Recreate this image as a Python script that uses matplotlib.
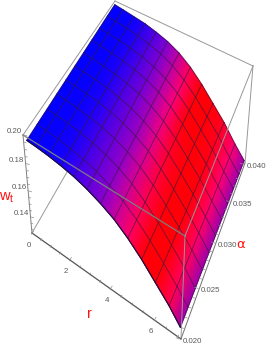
import numpy as np
import matplotlib
matplotlib.use("Agg")
import matplotlib.pyplot as plt
from matplotlib.colors import LinearSegmentedColormap

plt.rcParams['font.family'] = ['Liberation Sans', 'DejaVu Sans']
plt.rcParams['mathtext.fontset'] = 'custom'
plt.rcParams['mathtext.rm'] = 'Liberation Sans'

# surface
r_vals = [0.15, 0.6, 1.2, 1.8, 2.4, 3.0, 3.6, 4.2, 4.8, 5.4, 6.0, 6.6, 7.1]
alpha_vals = [0.020, 0.022, 0.024, 0.026, 0.028, 0.030, 0.032, 0.034, 0.036, 0.038, 0.040]
wt_vals = [
    [.1975, .1970, .1960, .1945, .1925, .1895, .1855, .1805, .1735, .1650, .1550, .1450, .1350],
    [.1977, .1971, .1961, .1946, .1925, .1895, .1854, .1803, .1732, .1645, .1545, .1443, .1344],
    [.1978, .1972, .1961, .1946, .1925, .1895, .1854, .1801, .1728, .1640, .1540, .1436, .1338],
    [.1980, .1973, .1962, .1947, .1925, .1895, .1853, .1799, .1725, .1635, .1535, .1429, .1332],
    [.1981, .1974, .1962, .1947, .1925, .1895, .1853, .1797, .1721, .1630, .1530, .1422, .1326],
    [.1983, .1975, .1963, .1948, .1925, .1895, .1852, .1795, .1718, .1625, .1525, .1415, .1320],
    [.1984, .1976, .1963, .1948, .1925, .1895, .1852, .1793, .1714, .1620, .1520, .1408, .1314],
    [.1986, .1977, .1964, .1949, .1925, .1895, .1851, .1791, .1711, .1615, .1515, .1401, .1308],
    [.1987, .1978, .1964, .1949, .1925, .1895, .1851, .1789, .1707, .1610, .1510, .1394, .1302],
    [.1989, .1979, .1965, .1950, .1925, .1895, .1850, .1787, .1704, .1605, .1505, .1387, .1296],
    [.1990, .1980, .1965, .1950, .1925, .1895, .1850, .1785, .1700, .1600, .1500, .1380, .1290],
]

r_ticks = [0, 2, 4, 6]
alpha_ticks = [0.020, 0.025, 0.030, 0.035, 0.040]
wt_ticks = [0.14, 0.16, 0.18, 0.20]
r_minor = [0.5, 1, 1.5, 2.5, 3, 3.5, 4.5, 5, 5.5, 6.5, 7]
alpha_minor = [0.021, 0.022, 0.023, 0.024, 0.026, 0.027, 0.028, 0.029,
               0.031, 0.032, 0.033, 0.034, 0.036, 0.037, 0.038, 0.039]
wt_minor = [0.13, 0.135, 0.145, 0.15, 0.155, 0.165, 0.17, 0.175, 0.185, 0.19, 0.195]

r_lim = (0.0, 7.1)
alpha_lim = (0.020, 0.040)
wt_lim = (0.126, 0.200)

# box corners on screen, used to fit the camera
box = {
    (0, 0, 0): (32, 233), (0, 0, 1): (23, 135),
    (1, 0, 0): (181, 339), (1, 0, 1): (185, 236),
    (1, 1, 0): (245, 163), (1, 1, 1): (253, 66),
    (0, 1, 0): (110, 97), (0, 1, 1): (115, 1),
}


def fit_camera():
    rows = []
    for (a, b, c), (u, v) in box.items():
        rows.append([a, b, c, 1, 0, 0, 0, 0, -u*a, -u*b, -u*c, -u])
        rows.append([0, 0, 0, 0, a, b, c, 1, -v*a, -v*b, -v*c, -v])
    return np.linalg.svd(np.array(rows, dtype=float))[2][-1].reshape(3, 4)


cam = fit_camera()


def project(r, alpha, wt):
    a = (np.asarray(r, dtype=float) - r_lim[0]) / (r_lim[1] - r_lim[0])
    b = (np.asarray(alpha, dtype=float) - alpha_lim[0]) / (alpha_lim[1] - alpha_lim[0])
    c = (np.asarray(wt, dtype=float) - wt_lim[0]) / (wt_lim[1] - wt_lim[0])
    w = cam[2, 0]*a + cam[2, 1]*b + cam[2, 2]*c + cam[2, 3]
    u = (cam[0, 0]*a + cam[0, 1]*b + cam[0, 2]*c + cam[0, 3]) / w
    v = (cam[1, 0]*a + cam[1, 1]*b + cam[1, 2]*c + cam[1, 3]) / w
    return u, v


def edge(ax, p, q, color="#989898", lw=0.7, zorder=1):
    ax.plot([box[p][0], box[q][0]], [box[p][1], box[q][1]], color=color, lw=lw, zorder=zorder)


fig = plt.figure(figsize=(2.66, 3.46), dpi=100)
ax = fig.add_axes([0, 0, 1, 1])
ax.set_xlim(0, 266)
ax.set_ylim(346, 0)
ax.axis("off")

# back of the box
edge(ax, (0, 0, 0), (0, 1, 0))
edge(ax, (0, 1, 1), (1, 1, 1))
edge(ax, (0, 0, 1), (0, 1, 1))
edge(ax, (1, 1, 0), (1, 1, 1))

# surface
R, A = np.meshgrid(r_vals, alpha_vals)
W = np.array(wt_vals)
U, V = project(R, A, W)

cmap = LinearSegmentedColormap.from_list("bluered", [
    (0.0, (0, 0, 1)), (0.2, (0.05, 0, 1)), (0.45, (0.55, 0, 0.8)),
    (0.58, (1, 0, 0.45)), (0.66, (1, 0, 0.03)), (0.82, (1, 0, 0.03)),
    (0.93, (1, 0, 0.45)), (1.0, (0.62, 0, 0.68)),
])
r_red = 5.7 - 0.8*(A - 0.02)/0.02
shade = np.where(R < r_red, 0.7*R/r_red, 0.7 + 0.3*(R - r_red)/(7.1 - r_red))
ax.pcolormesh(U, V, shade, shading="gouraud", cmap=cmap, vmin=0, vmax=1, zorder=2)

mesh_c = (0.2, 0.1, 0.25, 0.7)
for i in range(U.shape[0]):
    ax.plot(U[i], V[i], color=mesh_c, lw=0.6, zorder=3)
for j in range(U.shape[1]):
    ax.plot(U[:, j], V[:, j], color=mesh_c, lw=0.6, zorder=3)
ax.plot(U[0], V[0], color=(0.1, 0.05, 0.25), lw=0.8, zorder=3)

# front of the box, over the surface
edge(ax, (0, 0, 1), (1, 0, 1), color="#7d7d80", lw=0.9, zorder=4)
edge(ax, (1, 0, 1), (1, 1, 1), zorder=4)
edge(ax, (1, 0, 1), (1, 0, 0), zorder=4)
edge(ax, (0, 0, 0), (0, 0, 1), color="#808080", zorder=4)
edge(ax, (0, 0, 0), (1, 0, 0), color="#555555", lw=0.9, zorder=4)
edge(ax, (1, 0, 0), (1, 1, 0), color="#707070", zorder=4)

# ticks
tick_c = "#909090"
for t in r_ticks + r_minor:
    u, v = project(t, alpha_lim[0], wt_lim[0])
    s = 3.5 if t in r_ticks else 2
    ax.plot([u, u + 0.6*s], [v, v - s], color=tick_c, lw=0.5, zorder=4)
for t in alpha_ticks + alpha_minor:
    u, v = project(r_lim[1], t, wt_lim[0])
    s = 3.5 if t in alpha_ticks else 2
    ax.plot([u, u - s], [v, v - 0.3*s], color=tick_c, lw=0.5, zorder=4)
for t in wt_ticks + wt_minor:
    u, v = project(r_lim[0], alpha_lim[0], t)
    s = 3.5 if t in wt_ticks else 2
    ax.plot([u, u + s], [v, v + 0.3*s], color=tick_c, lw=0.5, zorder=4)

# tick labels
lab_c = "#5a5a5a"
fs = 5.7
for t in r_ticks:
    u, v = project(t, alpha_lim[0], wt_lim[0])
    ax.text(u - 3, v + 11, str(t), fontsize=fs, color=lab_c, ha="center", va="center", zorder=5)
for t in alpha_ticks:
    u, v = project(r_lim[1], t, wt_lim[0])
    ax.text(u + 3, v + 2.5, "%.3f" % t, fontsize=fs, color=lab_c, ha="left", va="center", zorder=5)
for t in wt_ticks:
    u, v = project(r_lim[0], alpha_lim[0], t)
    ax.text(u - 1.5, v - 3, "%.2f" % t, fontsize=fs, color=lab_c, ha="right", va="center", zorder=5)

# axis labels
ax.text(89, 314, "r", fontsize=10.5, color="#ff1010", ha="center", va="center", zorder=6)
ax.text(241, 244, "\u03b1", fontsize=9.5, color="#ff1010", ha="center", va="center", zorder=6,
        family=["DejaVu Sans"])
ax.text(7, 198, r"$\mathrm{w_t}$", fontsize=10.5, color="#ff1010", ha="center", va="center", zorder=6)

fig.savefig("out.png", dpi=100)
